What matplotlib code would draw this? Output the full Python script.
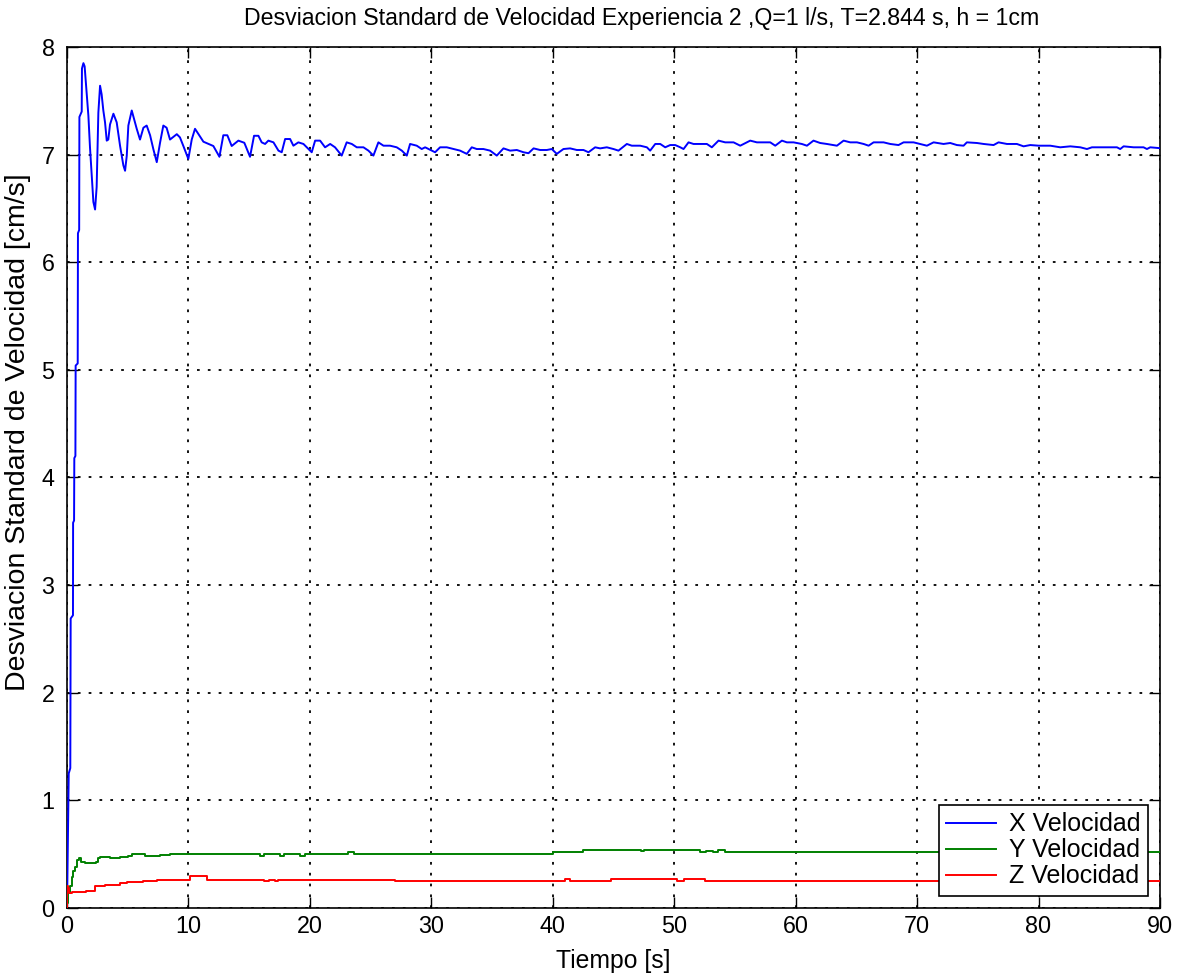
import numpy as np
import matplotlib
matplotlib.use("Agg")
from matplotlib import pyplot as plt

plt.rcParams["font.family"] = ["Liberation Sans", "DejaVu Sans"]

# data
# X velocity (t [s], std [cm/s])
x_t = [0, 0.14, 0.27, 0.30, 0.49, 0.50, 0.58, 0.60, 0.69, 0.71, 0.88, 0.90, 1.00, 1.02,
       1.21, 1.23, 1.35, 1.45, 1.57, 1.76, 1.89, 2.03, 2.17, 2.31, 2.44, 2.58, 2.72, 2.85,
       2.99, 3.13, 3.27, 3.40, 3.54, 3.82, 4.09, 4.37, 4.64, 4.78, 4.92, 5.05, 5.33, 5.74,
       6.01, 6.29, 6.56, 6.84, 7.11, 7.39, 7.66, 7.93, 8.20, 8.48, 9.04, 9.30, 9.58, 9.99,
       10.27, 10.54, 11.23, 12.05, 12.55, 12.87, 13.20, 13.56, 14.11, 14.60, 15.07,
       15.40, 15.76, 16.03, 16.31, 16.58, 17.00, 17.41, 17.68, 17.96, 18.37, 18.64, 19.05,
       19.47, 19.88, 20.15, 20.43, 20.84, 21.25, 21.67, 22.07, 22.62, 23.03, 23.45, 23.86,
       24.41, 24.82, 25.23, 25.64, 26.06, 26.60, 27.15, 27.57, 27.98, 28.25, 28.80, 29.21,
       29.49, 30.04, 30.31, 30.72, 31.27, 31.82, 32.37, 32.92, 33.33, 33.74, 34.29, 34.84,
       35.39, 35.94, 36.49, 37.04, 37.59, 38.00, 38.42, 38.96, 39.51, 39.92, 40.33, 40.88,
       41.43, 41.98, 42.53, 42.94, 43.49, 43.90, 44.45, 45.00, 45.41, 46.10, 46.51, 47.20,
       47.75, 48.02, 48.44, 48.85, 49.26, 49.67, 50.08, 50.50, 50.77, 51.18, 51.59, 52.14,
       52.69, 53.10, 53.65, 54.20, 54.89, 55.44, 56.26, 56.81, 57.36, 57.91, 58.32, 58.87,
       59.28, 59.83, 60.51, 60.93, 61.47, 62.02, 62.57, 63.40, 63.95, 64.50, 65.05, 65.60,
       66.01, 66.42, 67.24, 67.79, 68.47, 68.89, 69.71, 70.26, 70.81, 71.36, 72.18, 72.73,
       73.28, 73.83, 74.10, 74.93, 75.48, 76.30, 76.71, 77.40, 78.22, 78.77, 79.32, 80.01,
       80.97, 81.79, 82.62, 83.44, 83.99, 84.40, 85.09, 86.46, 86.73, 87.01, 87.83, 88.65,
       88.93, 89.20, 90.00]
x_v = [0.0, 1.25, 1.30, 2.69, 2.72, 3.58, 3.60, 4.18, 4.20, 5.04, 5.06, 6.27, 6.30, 7.35,
       7.40, 7.80, 7.85, 7.82, 7.64, 7.36, 7.07, 6.81, 6.56, 6.49, 6.70, 7.39, 7.64, 7.56,
       7.41, 7.30, 7.13, 7.14, 7.28, 7.38, 7.30, 7.08, 6.90, 6.85, 6.99, 7.27, 7.41, 7.24,
       7.14, 7.25, 7.27, 7.18, 7.05, 6.93, 7.11, 7.27, 7.25, 7.14, 7.19, 7.16, 7.08, 6.96,
       7.14, 7.24, 7.12, 7.08, 6.98, 7.18, 7.18, 7.08, 7.13, 7.11, 6.98,
       7.175, 7.175, 7.114, 7.099, 7.130, 7.114, 7.037, 7.022, 7.145, 7.145, 7.083, 7.114,
       7.099, 7.052, 7.022, 7.130, 7.130, 7.068, 7.099, 7.068, 6.991, 7.114, 7.099, 7.068,
       7.068, 7.037, 6.991, 7.114, 7.083, 7.083, 7.068, 7.037, 6.991, 7.099, 7.083, 7.052,
       7.068, 7.037, 7.022, 7.068, 7.068, 7.052, 7.037, 7.007, 7.068, 7.052, 7.052, 7.037,
       6.991, 7.058, 7.037, 7.043, 7.022, 7.013, 7.058, 7.043, 7.043, 7.052, 7.007, 7.052,
       7.058, 7.043, 7.043, 7.022, 7.068, 7.058, 7.068, 7.052, 7.037, 7.099, 7.083, 7.083,
       7.068, 7.037, 7.099, 7.099, 7.068, 7.089, 7.089, 7.068, 7.052, 7.114, 7.099, 7.099,
       7.099, 7.068, 7.130, 7.114, 7.114, 7.083, 7.130, 7.114, 7.114, 7.114, 7.083, 7.130,
       7.114, 7.114, 7.099, 7.083, 7.130, 7.108, 7.099, 7.083, 7.130, 7.114, 7.114, 7.099,
       7.083, 7.114, 7.114, 7.099, 7.089, 7.114, 7.114, 7.099, 7.083, 7.114, 7.099, 7.108,
       7.089, 7.083, 7.114, 7.108, 7.099, 7.089, 7.114, 7.099, 7.099, 7.077, 7.089, 7.083,
       7.083, 7.068, 7.077, 7.068, 7.052, 7.068, 7.068, 7.068, 7.052, 7.077, 7.068, 7.068,
       7.052, 7.068, 7.060]

# Y velocity (change points, drawn as steps)
y_t = [0, 0.03, 0.10, 0.25, 0.39, 0.52, 0.66, 0.80, 0.95, 1.13, 1.48, 2.39, 2.58, 2.72,
       3.54, 4.37, 5.05, 5.33, 6.43, 7.66, 8.48, 9.86, 15.9, 16.2, 17.5, 17.9, 19.2, 19.6,
       23.1, 23.6, 40.06, 42.5, 47.3, 47.5, 52.1, 52.6, 53.2, 53.6, 54.2, 90.0]
y_v = [0.0, 0.05, 0.14, 0.20, 0.29, 0.34, 0.38, 0.45, 0.46, 0.43, 0.42, 0.43, 0.46, 0.47,
       0.46, 0.47, 0.48, 0.50, 0.48, 0.49, 0.50, 0.50, 0.486, 0.505, 0.486, 0.505, 0.486,
       0.505, 0.524, 0.505, 0.524, 0.542, 0.53, 0.542, 0.524, 0.53, 0.524, 0.542, 0.52, 0.52]

# Z velocity (change points, drawn as steps)
z_t = [0, 0.02, 0.10, 0.20, 0.45, 1.60, 2.30, 3.13, 4.37, 4.91, 6.29, 7.39, 10.13, 11.5,
       16.2, 16.6, 17.1, 17.4, 27.0, 41.0, 41.4, 43.5, 44.8, 50.2, 50.8, 52.5, 90.0]
z_v = [0.0, 0.20, 0.19, 0.14, 0.15, 0.16, 0.20, 0.21, 0.23, 0.245, 0.25, 0.26, 0.294, 0.263,
       0.247, 0.263, 0.247, 0.263, 0.247, 0.27, 0.247, 0.255, 0.27, 0.247, 0.27, 0.255, 0.255]


fig = plt.figure(figsize=(11.8, 9.73), dpi=100)
ax = fig.add_axes([0.0568, 0.0668, 0.9262, 0.8849])

ax.plot(x_t, x_v, color=(0, 0, 1), linewidth=1.4, label="X Velocidad", zorder=3)
ax.plot(y_t, y_v, color=(0, 0.5, 0), linewidth=1.4, drawstyle="steps-post", label="Y Velocidad", zorder=3)
ax.plot(z_t, z_v, color=(1, 0, 0), linewidth=1.4, drawstyle="steps-post", label="Z Velocidad", zorder=3)

ax.set_xlim(0, 90)
ax.set_ylim(0, 8)
ax.set_xticks(np.arange(0, 91, 10))
ax.set_yticks(np.arange(0, 9, 1))
ax.tick_params(direction="in", length=8, width=1, labelsize=16.8, top=True, right=True)
ax.tick_params(axis="x", pad=5)
ax.tick_params(axis="y", pad=9)
ax.grid(True, color="black", linestyle=(0, (1.5, 4.5)), linewidth=1.3, zorder=1)
for s in ax.spines.values():
    s.set_linewidth(1.2)

ax.set_title("Desviacion Standard de Velocidad Experiencia 2 ,Q=1 l/s, T=2.844 s, h = 1cm",
             fontsize=16.7, pad=16, x=0.526)
ax.set_xlabel("Tiempo [s]", fontsize=17.8)
ax.set_ylabel("Desviacion Standard de Velocidad [cm/s]", fontsize=20.5)
ax.xaxis.set_label_coords(0.5, -0.048)
ax.yaxis.set_label_coords(-0.033, 0.553)

leg = ax.legend(loc="lower right", fontsize=18, fancybox=False, framealpha=1,
                edgecolor="black", borderaxespad=0.0, handlelength=2.0,
                borderpad=0.3, labelspacing=0.08, handletextpad=0.5,
                bbox_to_anchor=(0.989, 0.014))
leg.get_frame().set_linewidth(1.2)

fig.savefig("out.png", dpi=100)
